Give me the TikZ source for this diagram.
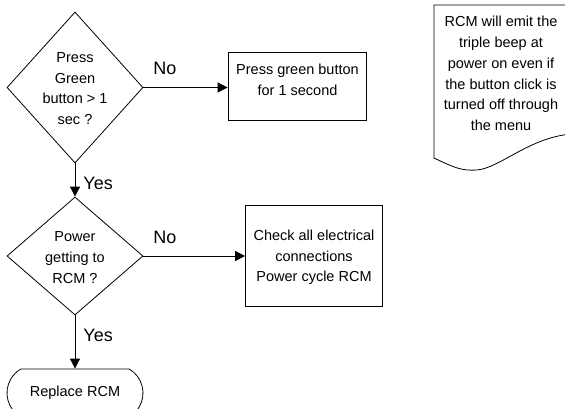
\documentclass[tikz,border=0pt]{standalone}
\usepackage{fontspec}
\setmainfont{Liberation Sans}
\usetikzlibrary{shapes.geometric,shapes.misc,arrows.meta}
\begin{document}
\begin{tikzpicture}[x=1pt,y=-1pt,
  line width=0.8pt,
  txt/.style={font=\fontsize{14.5}{20.7}\selectfont, align=center, inner sep=0pt},
  lbl/.style={font=\fontsize{18}{20}\selectfont, inner sep=0pt, anchor=west},
  decision/.style={draw, diamond, inner sep=0pt},
  procbox/.style={draw, rectangle, inner sep=0pt},
  termbox/.style={draw, rounded rectangle, rounded rectangle arc length=120, inner sep=0pt,
    minimum width=136pt, minimum height=48pt, font=\fontsize{14.5}{20.7}\selectfont},
  arr/.style={-{Triangle[width=10pt,length=10pt]}}
]
\useasboundingbox (0,0) rectangle (565,408);
\clip (0,0) rectangle (565,408);

% decisions
\node[decision, minimum width=136pt, minimum height=151pt] (d1) at (75,87.5) {};
\node[txt] (t1) at (75,88.5) {Press\\Green\\button > 1\\sec ?};
\node[decision, minimum width=136pt, minimum height=118pt] (d2) at (75,256) {};
\node[txt] (t2) at (75,257.5) {Power\\getting to\\RCM ?};

% process boxes
\node[procbox, minimum width=138pt, minimum height=68pt] (b1) at (297,86) {};
\node[txt] (tb1) at (297.5,80) {Press green button\\for 1 second};
\node[procbox, minimum width=137pt, minimum height=101pt] (b2) at (314,255.5) {};
\node[txt] (tb2) at (314,257.5) {Check all electrical\\connections\\Power cycle RCM};

% terminator
\node[termbox] (t3) at (75,393) {Replace RCM};

% document note
\draw (572,5) -- (434,5) -- (434,158)
  .. controls (455,168) and (462,171) .. (477,170)
  .. controls (500,168) and (530,137) .. (572,134) -- cycle;
\node[txt] (note) at (501,73.5) {RCM will emit the\\triple beep at\\power on even if\\the button click is\\turned off through\\the menu};

% connectors
\draw[arr] (d1.east) -- (d1.east -| b1.west);
\draw[arr] (d1.south) -- (d2.north);
\draw[arr] (d2.east) -- (d2.east -| b2.west);
\draw[arr] (d2.south) -- (t3.north);

% labels
\node[lbl] (no1) at (153,68) {No};
\node[lbl] (yes1) at (83,183) {Yes};
\node[lbl] (no2) at (153,237) {No};
\node[lbl] (yes2) at (83,335) {Yes};
\end{tikzpicture}
\end{document}
